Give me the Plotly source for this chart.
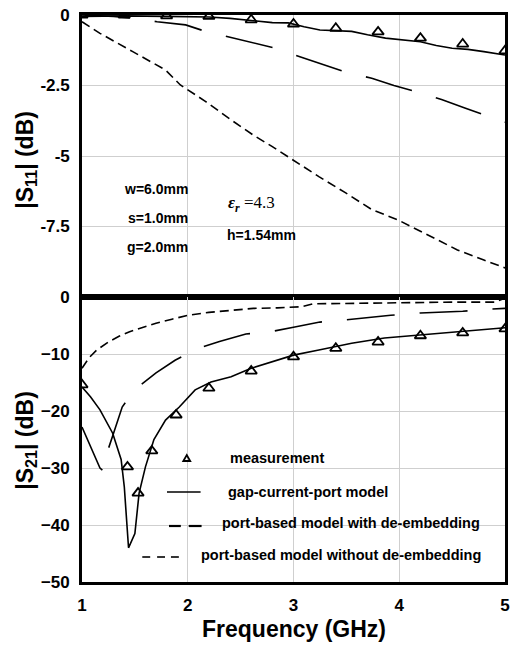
import plotly.graph_objects as go

# ---------------- data ----------------
# |S11| panel
s11_meas_f = [1.0, 1.4, 1.8, 2.2, 2.6, 3.0, 3.4, 3.8, 4.2, 4.6, 5.0]
s11_meas = [0.0, 0.0, -0.03, -0.05, -0.17, -0.32, -0.47, -0.6, -0.82, -1.03, -1.27]

s11_gap_f = [1.0, 1.4, 1.8, 2.2, 2.4, 2.6, 2.8, 2.95, 3.1, 3.25, 3.55, 3.7, 3.87, 4.2, 4.35, 4.5, 4.65, 4.8, 5.0]
s11_gap = [-0.05, -0.03, -0.05, -0.07, -0.12, -0.2, -0.27, -0.28, -0.42, -0.53, -0.58, -0.7, -0.82, -0.95,
           -1.08, -1.18, -1.22, -1.3, -1.42]

s11_with_f = [1.0, 1.3, 1.5, 1.71, 1.98, 2.15, 2.38, 2.63, 2.83, 3.06, 3.3, 3.51, 3.74, 3.95, 4.16, 4.4,
              4.62, 4.84, 5.0]
s11_with = [0.0, -0.05, -0.12, -0.24, -0.35, -0.56, -0.77, -1.0, -1.18, -1.48, -1.78, -2.05, -2.24, -2.5,
            -2.72, -3.0, -3.3, -3.6, -3.8]

s11_without_f = [1.0, 1.17, 1.48, 1.79, 1.93, 2.17, 2.41, 2.62, 2.8, 3.02, 3.24, 3.49, 3.74, 3.99, 4.23,
                 4.55, 4.8, 5.0]
s11_without = [-0.24, -0.65, -1.3, -1.95, -2.48, -3.07, -3.72, -4.26, -4.67, -5.2, -5.73, -6.3, -6.9,
               -7.27, -7.73, -8.33, -8.69, -8.97]

# |S21| panel
s21_meas_f = [1.0, 1.43, 1.53, 1.66, 1.89, 2.2, 2.6, 3.0, 3.4, 3.8, 4.2, 4.6, 5.0]
s21_meas = [-15.4, -29.8, -34.4, -27.0, -20.7, -16.0, -13.0, -10.5, -9.0, -7.9, -6.8, -6.3, -5.6]

s21_gap_f = [1.0, 1.08, 1.17, 1.29, 1.37, 1.4, 1.44, 1.5, 1.54, 1.6, 1.68, 1.79, 1.92, 2.07, 2.22, 2.41,
             2.6, 2.8, 3.0, 3.24, 3.55, 3.86, 4.18, 4.49, 4.8, 5.0]
s21_gap = [-15.8, -17.5, -19.8, -23.9, -28.5, -33.3, -44.0, -41.5, -34.4, -29.8, -25.0, -21.6, -19.3,
           -16.3, -14.9, -14.0, -12.5, -11.4, -10.2, -9.3, -8.1, -7.2, -6.7, -6.1, -5.6, -5.4]

s21_with_f = [1.0, 1.1, 1.17, 1.2, 1.23, 1.3, 1.38, 1.45, 1.53, 1.7, 1.88, 2.1, 2.3, 2.55, 2.78, 3.0,
              3.25, 3.5, 3.92, 4.2, 4.6, 4.88, 5.0]
s21_with = [-22.8, -27.0, -30.0, -30.5, -27.7, -23.8, -19.3, -17.5, -15.8, -13.3, -11.1, -9.0, -7.8,
            -6.5, -6.1, -5.3, -4.4, -4.0, -3.2, -2.8, -2.5, -2.1, -2.0]

s21_without_f = [1.0, 1.07, 1.14, 1.25, 1.35, 1.45, 1.58, 1.7, 1.85, 2.0, 2.2, 2.41, 2.62, 2.85, 3.08,
                 3.18, 3.5, 4.0, 4.5, 4.9, 5.0]
s21_without = [-12.5, -10.6, -9.3, -7.9, -6.9, -6.1, -5.3, -4.6, -3.9, -3.2, -2.7, -2.3, -2.0, -1.9,
               -1.7, -1.2, -1.1, -1.0, -0.9, -0.9, -0.2]

x_ticks = [1, 2, 3, 4, 5]
s11_ticks = [0, -2.5, -5, -7.5]
s11_ticktext = ["0", "-2.5", "-5", "-7.5"]
s21_ticks = [0, -10, -20, -30, -40, -50]

legend_labels = ["measurement", "gap-current-port model",
                 "port-based model with de-embedding", "port-based model without de-embedding"]

# ---------------- layout helpers ----------------
W, H = 515, 648
L, R, T, B = 82, 510, 15, 582
PW, PH = R - L, B - T


def px(xp):
    return (xp - L) / PW


def py(yp):
    return (B - yp) / PH


split = py(297)
FONT = "Liberation Sans, Arial, sans-serif"
LW = 1.6
LONG = "48px,25px"
SHORT = "9px,5px"

fig = go.Figure()


def add_set(xa, ya, mf, mv, gf, gv, wf, wv, of, ov):
    fig.add_trace(go.Scatter(x=gf, y=gv, mode="lines", xaxis=xa, yaxis=ya,
                             line=dict(color="black", width=LW)))
    fig.add_trace(go.Scatter(x=wf, y=wv, mode="lines", xaxis=xa, yaxis=ya,
                             line=dict(color="black", width=LW, dash=LONG)))
    fig.add_trace(go.Scatter(x=of, y=ov, mode="lines", xaxis=xa, yaxis=ya,
                             line=dict(color="black", width=LW, dash=SHORT)))
    fig.add_trace(go.Scatter(x=mf, y=mv, mode="markers", xaxis=xa, yaxis=ya,
                             marker=dict(symbol="triangle-up-open", size=10, color="black",
                                         line=dict(width=1.8, color="black"))))


add_set("x", "y", s11_meas_f, s11_meas, s11_gap_f, s11_gap, s11_with_f, s11_with,
        s11_without_f, s11_without)
add_set("x2", "y2", s21_meas_f, s21_meas, s21_gap_f, s21_gap, s21_with_f, s21_with,
        s21_without_f, s21_without)

tickfont = dict(family=FONT, size=17, color="black", weight="bold")
grid = "#cfcfcf"
common_x = dict(range=[1, 5], tickvals=x_ticks, showgrid=True, gridcolor=grid, gridwidth=1,
                showline=True, linecolor="black", linewidth=2.7, mirror=True, zeroline=False,
                ticks="outside", ticklen=6, tickcolor="rgba(0,0,0,0)", tickfont=tickfont,
                domain=[0, 1])
common_y = dict(showgrid=True, gridcolor=grid, gridwidth=1, showline=True, linecolor="black",
                linewidth=2.7, mirror=True, zeroline=False, ticks="outside", ticklen=6,
                tickcolor="rgba(0,0,0,0)", tickfont=tickfont)

fig.update_layout(
    width=W, height=H, showlegend=False,
    margin=dict(l=L, r=W - R, t=T, b=H - B),
    plot_bgcolor="white", paper_bgcolor="white",
    xaxis=dict(common_x, anchor="y", showticklabels=False),
    yaxis=dict(common_y, range=[-10, 0], tickvals=s11_ticks, ticktext=s11_ticktext,
               domain=[split, 1], anchor="x"),
    xaxis2=dict(common_x, anchor="y2"),
    yaxis2=dict(common_y, range=[-50, 0], tickvals=s21_ticks, domain=[0, split], anchor="x2"),
)

ann = []
# axis titles
ann.append(dict(text="<b>|S<sub>11</sub>| (dB)</b>", x=px(25), y=py(160), textangle=-90,
                font=dict(family=FONT, size=23, color="black")))
ann.append(dict(text="<b>|S<sub>21</sub>| (dB)</b>", x=px(25), y=py(440), textangle=-90,
                font=dict(family=FONT, size=23, color="black")))
ann.append(dict(text="<b>Frequency (GHz)</b>", x=px(297), y=py(629),
                font=dict(family=FONT, size=23, color="black")))
# structure annotations
tf = dict(family=FONT, size=14, color="black")
for txt, yy in [("w=6.0mm", 189), ("s=1.0mm", 218), ("g=2.0mm", 247)]:
    ann.append(dict(text="<b>" + txt + "</b>", x=px(191), y=py(yy), xanchor="right", font=tf))
ann.append(dict(text="<b><i>ε</i></b><sub><i><b>r</b></i></sub> =4.3", x=px(228), y=py(204),
                xanchor="left", font=dict(family="Liberation Serif, Times New Roman, serif",
                                          size=17, color="black")))
ann.append(dict(text="<b>h=1.54mm</b>", x=px(227), y=py(235), xanchor="left", font=tf))
# legend texts
lf = dict(family=FONT, size=14.5, color="black")
for txt, xx, yy in [(legend_labels[0], 230, 458), (legend_labels[1], 228, 492),
                    (legend_labels[2], 222, 523), (legend_labels[3], 200, 555)]:
    ann.append(dict(text="<b>" + txt + "</b>", x=px(xx), y=py(yy), xanchor="left", font=lf))

for a in ann:
    a.update(xref="paper", yref="paper", showarrow=False)
    a.setdefault("xanchor", "center")
    a.setdefault("yanchor", "middle")
fig.update_layout(annotations=ann)

shapes = []
# legend samples (paper coords)
tri = "M {:.4f} {:.4f} L {:.4f} {:.4f} L {:.4f} {:.4f} Z".format(
    px(184.5), py(461), px(191.5), py(461), px(188), py(455))
shapes.append(dict(type="path", path=tri, line=dict(color="black", width=1.8)))
shapes.append(dict(type="line", x0=px(168), x1=px(202), y0=py(492), y1=py(492),
                   line=dict(color="black", width=LW)))
for a, b in [(170, 182), (190, 203)]:
    shapes.append(dict(type="line", x0=px(a), x1=px(b), y0=py(526), y1=py(526),
                       line=dict(color="black", width=LW + 0.6)))
for a, b in [(143, 151), (158, 166), (172, 180)]:
    shapes.append(dict(type="line", x0=px(a), x1=px(b), y0=py(557), y1=py(557),
                       line=dict(color="black", width=LW)))
for s in shapes:
    s.update(xref="paper", yref="paper")
fig.update_layout(shapes=shapes)

fig.write_html("out.html")
